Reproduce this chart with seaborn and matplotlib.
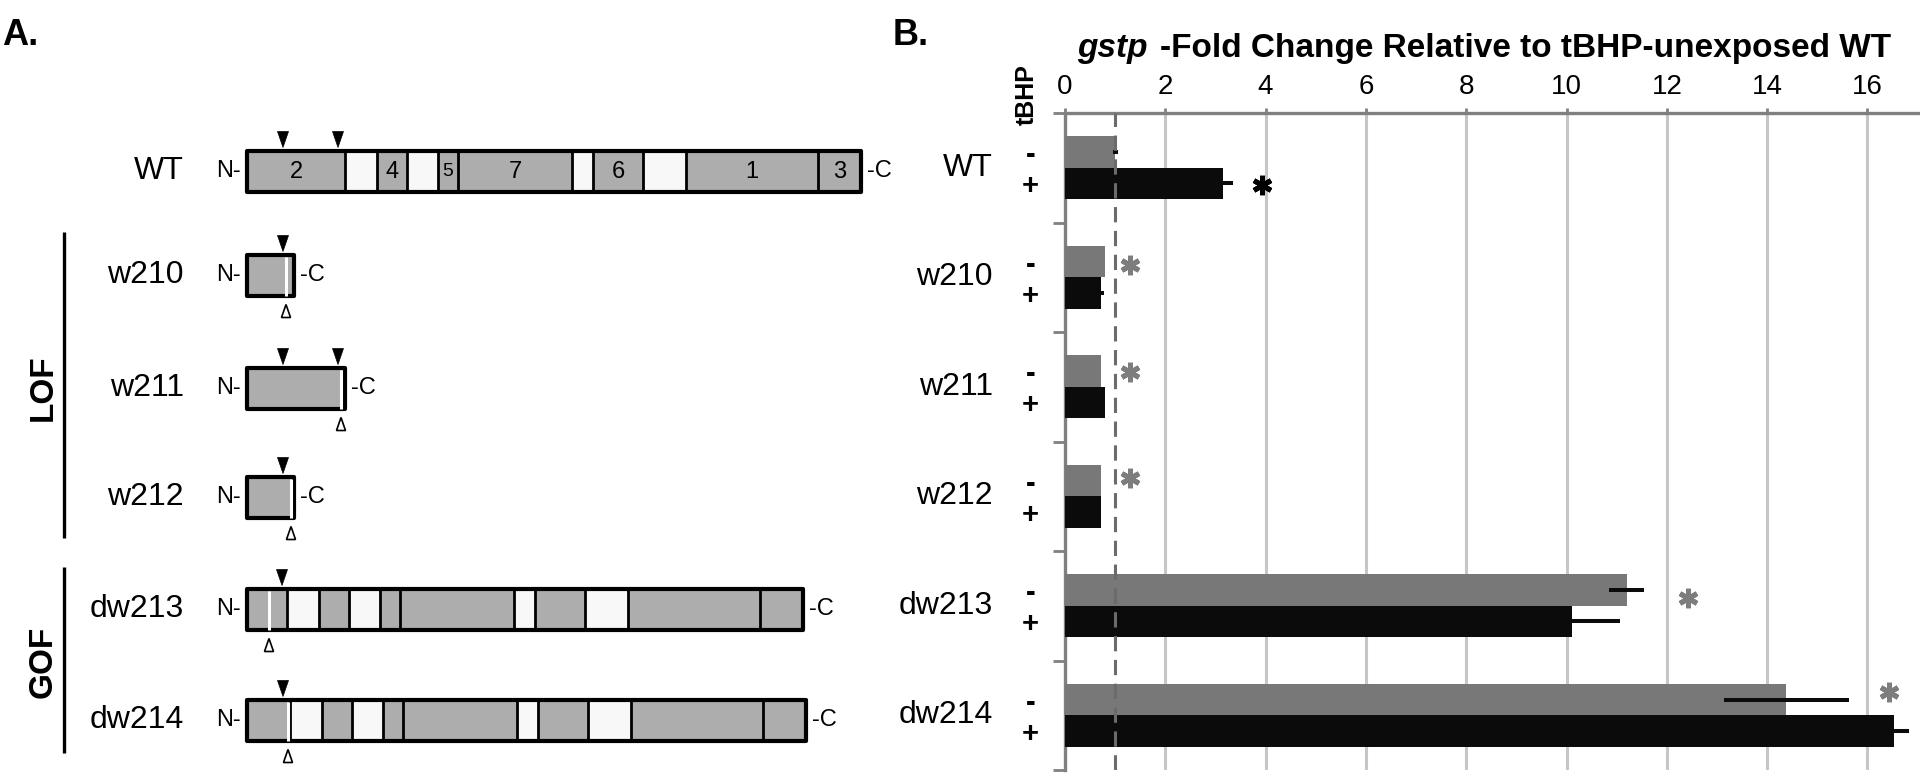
import numpy as np
import pandas as pd
import matplotlib
matplotlib.use("Agg")
import matplotlib.pyplot as plt
import seaborn as sns
from matplotlib.patches import Rectangle, Polygon
from matplotlib import transforms

# ---------------- Panel B data ----------------
strains = ["WT", "w210", "w211", "w212", "dw213", "dw214"]
tbhp_levels = ["-", "+"]
fold_unexposed = [1.00, 0.80, 0.72, 0.72, 11.20, 14.38]
fold_exposed = [3.15, 0.72, 0.80, 0.72, 10.10, 16.53]
err_unexposed = [0.05, 0.0, 0.0, 0.0, 0.35, 1.25]
err_exposed = [0.20, 0.06, 0.0, 0.0, 0.96, 0.30]
xticks_b = [0, 2, 4, 6, 8, 10, 12, 14, 16]
baseline_fold = 1.0
title_italic = "gstp"
title_rest = "-Fold Change Relative to tBHP-unexposed WT"

# significance stars
star_strains = ["WT", "w210", "w211", "w212", "dw213", "dw214"]
star_levels = ["+", "-", "-", "-", "-", "-"]
star_x = [3.93, 1.30, 1.30, 1.30, 12.43, 16.43]
star_dy = [0.01, 0.03, 0.01, -0.02, 0.07, -0.07]

# ---------------- Panel A data ----------------
wt_domains = ["2", "", "4", "", "5", "7", "", "6", "", "1", "3"]
wt_widths = [98, 32, 30, 31, 20, 114, 21, 50, 43, 132, 43]
wt_filled = [True, False, True, False, True, True, False, True, False, True, True]
wt_arrows = [36, 91]
mut_names = ["w210", "w211", "w212", "dw213", "dw214"]
mut_truncated = [True, True, True, False, False]
mut_d2_len = [47, 98, 47, 40, 43]
mut_del = [39, 94, 44, 22, 41]
mut_arrows = [[36], [36, 91], [36], [35], [36]]

GRAY_DOM = "#adadad"
WHITE_DOM = "#f8f8f8"
BAR_COLORS = {"-": "#787878", "+": "#0b0b0b"}
AXIS_GRAY = "#808080"

sns.set_theme(style="white")
plt.rcParams["font.family"] = ["Liberation Sans", "DejaVu Sans"]
plt.rcParams["text.color"] = "black"

W, H = 1920, 774
fig = plt.figure(figsize=(W / 100, H / 100), dpi=100)

# ---------- Panel A (schematic, pixel-like coordinates) ----------
ax_a = fig.add_axes([0, 0, 1, 1])
ax_a.set_xlim(0, W)
ax_a.set_ylim(H, 0)
ax_a.axis("off")

BOX_H = 41
X0 = 247


def draw_construct(yc, widths, filled, labels, del_pos=None, arrows=()):
    top, bot = yc - BOX_H / 2, yc + BOX_H / 2
    x = X0
    edges = []
    for w, f, lab in zip(widths, filled, labels):
        ax_a.add_patch(Rectangle((x, top), w, BOX_H, facecolor=GRAY_DOM if f else WHITE_DOM,
                                 edgecolor="none", zorder=2))
        if lab:
            ax_a.text(x + w / 2, yc + 1, lab, ha="center", va="center",
                      fontsize=14 if w < 25 else 17, zorder=4)
        x += w
        edges.append(x)
    for e in edges[:-1]:
        ax_a.plot([e, e], [top, bot], color="black", lw=2.0, zorder=3, solid_capstyle="butt")
    ax_a.add_patch(Rectangle((X0, top), x - X0, BOX_H, facecolor="none", edgecolor="black",
                             lw=3.0, joinstyle="round", zorder=5))
    if del_pos is not None:
        xd = X0 + del_pos
        ax_a.plot([xd, xd], [top + 2, bot], color="white", lw=2.2, zorder=6, solid_capstyle="butt")
        ax_a.add_patch(Polygon([[xd, bot + 9], [xd - 4.5, bot + 22], [xd + 4.5, bot + 22]],
                               closed=True, facecolor="white", edgecolor="black", lw=1.2, zorder=6))
    for a in arrows:
        xa = X0 + a
        ax_a.add_patch(Polygon([[xa - 5.5, top - 19], [xa + 5.5, top - 19], [xa, top - 3]],
                               closed=True, facecolor="black", edgecolor="black", lw=0.5, zorder=6))
    ax_a.text(X0 - 6, yc, "N-", ha="right", va="center", fontsize=17)
    ax_a.text(x + 6, yc, "-C", ha="left", va="center", fontsize=17)


row_y = [171, 275, 388, 497, 609, 720]
ax_a.text(184, row_y[0], "WT", ha="right", va="center", fontsize=23)
draw_construct(row_y[0], wt_widths, wt_filled, wt_domains, None, wt_arrows)
for i, name in enumerate(mut_names):
    yc = row_y[i + 1]
    ax_a.text(184, yc, name, ha="right", va="center", fontsize=23)
    if mut_truncated[i]:
        widths, filled, labels = [mut_d2_len[i]], [True], [""]
    else:
        widths = [mut_d2_len[i]] + wt_widths[1:]
        filled = wt_filled
        labels = [""] * len(wt_widths)
    draw_construct(yc, widths, filled, labels, mut_del[i], mut_arrows[i])

# LOF / GOF brackets
ax_a.plot([64, 64], [232, 538], color="black", lw=2.4, solid_capstyle="butt")
ax_a.plot([64, 64], [567, 753], color="black", lw=2.4, solid_capstyle="butt")
ax_a.text(43, 388, "LOF", rotation=90, ha="center", va="center", fontsize=24, fontweight="bold")
ax_a.text(43, 662, "GOF", rotation=90, ha="center", va="center", fontsize=24, fontweight="bold")

# panel letters
ax_a.text(2, 45, "A.", ha="left", va="baseline", fontsize=26, fontweight="bold")
ax_a.text(893, 45, "B.", ha="left", va="baseline", fontsize=26, fontweight="bold")

# ---------- Panel B (bar chart) ----------
left_px, right_px, top_px, bot_px = 1065, 1917.6, 113, 770
ax = fig.add_axes([left_px / W, 1 - bot_px / H, (right_px - left_px) / W, (bot_px - top_px) / H])
ax.patch.set_alpha(0)

df = pd.DataFrame({
    "strain": strains * 2,
    "tBHP": [tbhp_levels[0]] * len(strains) + [tbhp_levels[1]] * len(strains),
    "fold": fold_unexposed + fold_exposed,
})
sns.barplot(data=df, x="fold", y="strain", hue="tBHP", order=strains, hue_order=tbhp_levels,
            palette=BAR_COLORS, width=0.575, errorbar=None, saturation=1, orient="h",
            legend=False, linewidth=0, zorder=3, ax=ax)

for cont, errs in zip(ax.containers, [err_unexposed, err_exposed]):
    ys = [p.get_y() + p.get_height() / 2 for p in cont]
    xs = [p.get_width() for p in cont]
    ax.errorbar(xs, ys, xerr=errs, fmt="none", ecolor=BAR_COLORS["+"], elinewidth=2.9,
                capsize=0, zorder=4)

ax.axvline(baseline_fold, color="#6b6b6b", lw=2.2, ls=(0, (5, 2.8)), zorder=5)

ax.set_xlim(0, 17)
ax.set_ylim(len(strains) - 0.5, -0.5)
ax.set_xticks(xticks_b)
ax.grid(axis="x", color="#c6c6c6", lw=2.2, zorder=0)
ax.grid(axis="y", visible=False)
ax.set_axisbelow(True)
ax.set_xlabel("")
ax.set_ylabel("")
for s in ["right", "bottom"]:
    ax.spines[s].set_visible(False)
for s in ["top", "left"]:
    ax.spines[s].set_color(AXIS_GRAY)
    ax.spines[s].set_linewidth(2.4)

ax.xaxis.tick_top()
ax.tick_params(axis="x", which="major", length=3.6, width=2, color=AXIS_GRAY, labelsize=20,
               pad=6, top=True, bottom=False, labeltop=True, labelbottom=False, labelcolor="black")

ax.set_yticks(np.arange(len(strains) + 1) - 0.5)
ax.set_yticklabels([])
ax.tick_params(axis="y", which="major", length=8.6, width=2, color=AXIS_GRAY, left=True)

centers, tlabels = [], []
for lvl, cont in zip(tbhp_levels, ax.containers):
    for p in cont:
        centers.append(p.get_y() + p.get_height() / 2)
        tlabels.append(lvl)
ax.set_yticks(centers, labels=tlabels, minor=True)
ax.tick_params(axis="y", which="minor", length=0, pad=25, labelsize=21, labelcolor="black")
for t in ax.get_yticklabels(minor=True):
    t.set_fontweight("bold")
    t.set_horizontalalignment("center")

off = transforms.offset_copy(ax.get_yaxis_transform(), fig=fig, x=-72, y=0, units="dots")
for i, s in enumerate(strains):
    ax.text(0, i, s, transform=off, ha="right", va="center", fontsize=23)

for s, lvl, sx, dy in zip(star_strains, star_levels, star_x, star_dy):
    p = ax.containers[tbhp_levels.index(lvl)][strains.index(s)]
    y = p.get_y() + p.get_height() / 2 + dy
    color = "black" if lvl == "+" else "#7d7d7d"
    ax.plot([sx], [y], marker=(6, 2, 0), ms=14, mew=3.6, color=color, zorder=6, clip_on=False)

# tBHP header and title
ax_a.text(1027, 95, "tBHP", rotation=90, ha="center", va="center", fontsize=18, fontweight="bold")
ax_a.text(1148, 57, title_italic, ha="right", va="baseline", fontsize=24,
          fontweight="bold", style="italic")
ax_a.text(1160, 57, title_rest, ha="left", va="baseline", fontsize=24, fontweight="bold")

fig.savefig("out.png", dpi=100)
